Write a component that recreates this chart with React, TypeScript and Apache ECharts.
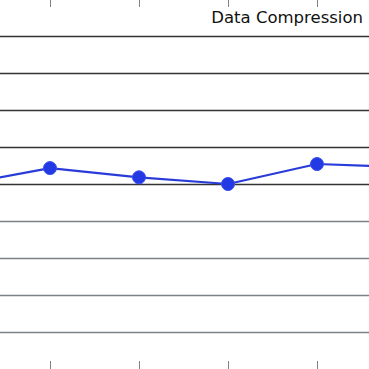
import React, { useEffect, useRef } from "react";
import * as echarts from "echarts";

const xValues = [0, 1, 2, 3, 4, 5];
const compressionValues = [3.98, 4.43, 4.18, 4.0, 4.54, 4.45];
const gridLevels = [0, 1, 2, 3, 4, 5, 6, 7, 8];
const gridColors = ["#7c8088", "#7c8088", "#7c8088", "#7c8088", "#333333", "#333333", "#333333", "#333333", "#333333"];
const titleText = "Data Compression";

export default function App() {
  const ref = useRef<HTMLDivElement>(null);
  useEffect(() => {
    if (!ref.current) return;
    const chart = echarts.init(ref.current, undefined, { renderer: "svg" });
    const xAxisCommon = {
      type: "value" as const,
      min: 0,
      max: 5,
      interval: 1,
      axisLine: { show: false, onZero: false },
      axisLabel: { show: false },
      splitLine: { show: false },
      axisTick: { show: true, inside: true, length: 8, lineStyle: { color: "#808080", width: 1 } },
    };
    chart.setOption({
      animation: false,
      backgroundColor: "#ffffff",
      grid: { left: -39, top: -1, width: 445, height: 370, containLabel: false, outerBoundsMode: "none" },
      xAxis: [
        { ...xAxisCommon, position: "bottom" },
        { ...xAxisCommon, position: "top" },
      ],
      yAxis: {
        type: "value",
        min: -1,
        max: 9,
        interval: 1,
        axisLine: { show: false, onZero: false },
        axisTick: { show: false },
        axisLabel: { show: false },
        splitLine: { show: false },
      },
      graphic: [
        {
          type: "text",
          x: 363,
          y: 17,
          z: 100,
          style: {
            text: titleText,
            align: "right",
            verticalAlign: "middle",
            fontFamily: "DejaVu Sans",
            fontSize: 16.5,
            fill: "#111111",
          },
        },
      ],
      series: [
        {
          type: "line",
          data: [],
          z: 1,
          markLine: {
            silent: true,
            z: 1,
            symbol: ["none", "none"],
            label: { show: false },
            lineStyle: { type: "solid", width: 1.3 },
            data: gridLevels.map((v, i) => ({ yAxis: v, lineStyle: { color: gridColors[i], type: "solid", width: 1.3 } })),
          },
        },
        {
          type: "line",
          z: 10,
          data: xValues.map((x, i) => [x, compressionValues[i]]),
          symbol: "circle",
          symbolSize: 13,
          lineStyle: { color: "#2a3cd8", width: 2.2 },
          itemStyle: { color: "#2339e4", borderColor: "#3a52ee", borderWidth: 1 },
        },
      ],
    });
    return () => chart.dispose();
  }, []);
  return <div ref={ref} style={{ position: "fixed", left: 0, top: 0, width: 369, height: 369 }} />;
}
